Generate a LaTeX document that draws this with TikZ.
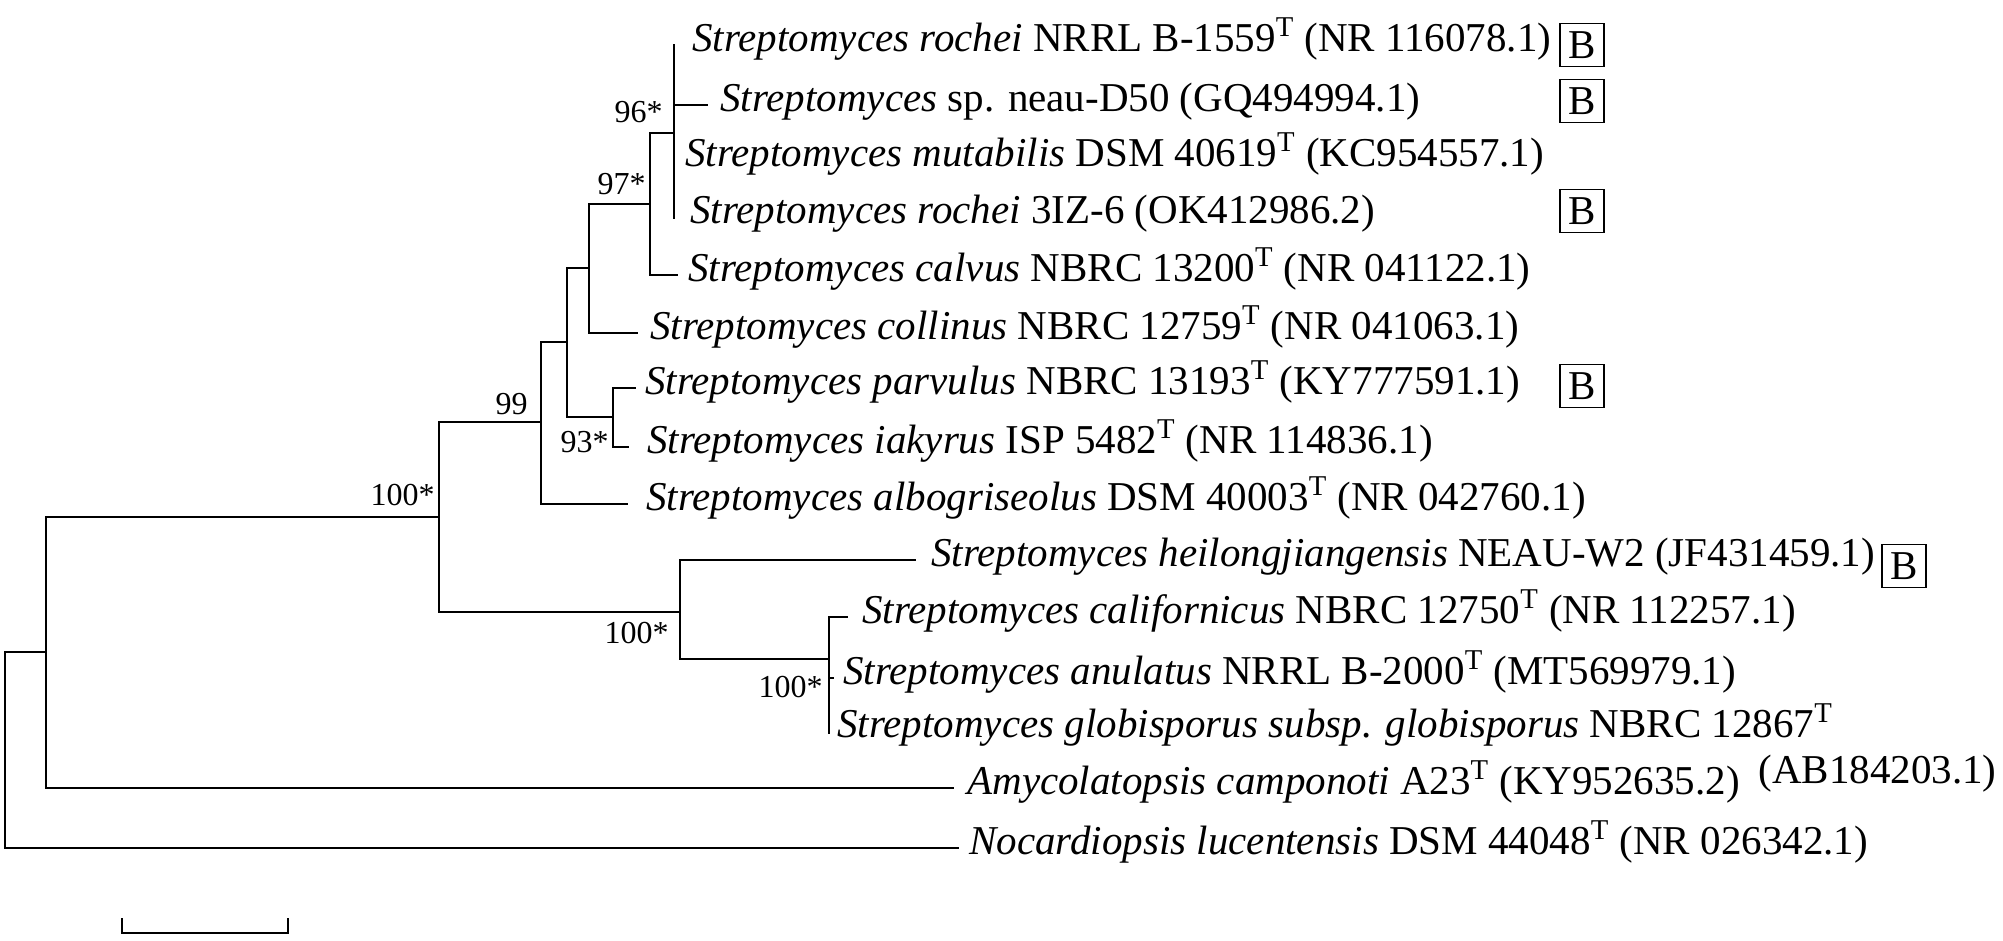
\documentclass[tikz,border=0pt]{standalone}
\usepackage{fontspec}
\setmainfont{Liberation Serif}
\newcommand{\typT}{\textsuperscript{T}}
\tikzset{
  branch/.style={line width=1pt, line cap=rect},
  leaf/.style={anchor=west, inner sep=0pt, text height=0.9em, text depth=0.25em, font=\fontsize{20.5}{24}\selectfont},
  boot/.style={anchor=base east, inner sep=0pt, font=\fontsize{16}{19}\selectfont},
  bmark/.style={draw, line width=0.8pt, minimum width=22pt, minimum height=21.5pt, inner sep=0pt, font=\fontsize{20.5}{24}\selectfont}
}
\begin{document}
\begin{tikzpicture}[x=0.5pt,y=-0.5pt]
\useasboundingbox (0,0) rectangle (2003,941);
%internal nodes
\coordinate (n96) at (674,133);
\coordinate (n97) at (650,204);
\coordinate (nX) at (589,268);
\coordinate (nY) at (567,342);
\coordinate (n93) at (613,417);
\coordinate (n99) at (541,422);
\coordinate (n100a) at (439,517);
\coordinate (n100b) at (680,612);
\coordinate (n100c) at (829,659);
\coordinate (nA) at (46,652);
\coordinate (root) at (5,750);
%branch tips
\coordinate (t1) at (674,45);
\coordinate (t2) at (707,105);
\coordinate (t3) at (674,160);
\coordinate (t4) at (674,218);
\coordinate (t5) at (677,275);
\coordinate (t6) at (637,333);
\coordinate (t7) at (635,388);
\coordinate (t8) at (628,447);
\coordinate (t9) at (627,504);
\coordinate (t10) at (915,560);
\coordinate (t11) at (847,617);
\coordinate (t12) at (833,678);
\coordinate (t13) at (829,733);
\coordinate (t14) at (953,788);
\coordinate (t15) at (958,848);
%branches
\draw[branch] (n96) |- (t1);
\draw[branch] (n96) |- (t2);
\draw[branch] (n96) |- (t3);
\draw[branch] (n96) |- (t4);
\draw[branch] (n97) |- (n96);
\draw[branch] (n97) |- (t5);
\draw[branch] (nX) |- (n97);
\draw[branch] (nX) |- (t6);
\draw[branch] (nY) |- (nX);
\draw[branch] (nY) |- (n93);
\draw[branch] (n93) |- (t7);
\draw[branch] (n93) |- (t8);
\draw[branch] (n99) |- (nY);
\draw[branch] (n99) |- (t9);
\draw[branch] (n100a) |- (n99);
\draw[branch] (n100a) |- (n100b);
\draw[branch] (n100b) |- (t10);
\draw[branch] (n100b) |- (n100c);
\draw[branch] (n100c) |- (t11);
\draw[branch] (n100c) |- (t12);
\draw[branch] (n100c) |- (t13);
\draw[branch] (nA) |- (n100a);
\draw[branch] (nA) |- (t14);
\draw[branch] (root) |- (nA);
\draw[branch] (root) |- (t15);
%bootstrap values
\node[boot] (b96) at (663,123) {96*};
\node[boot] (b97) at (646,195) {97*};
\node[boot] (b99) at (528,415) {99};
\node[boot] (b100a) at (435,505) {100*};
\node[boot] (b93) at (609,452) {93*};
\node[boot] (b100b) at (669,643) {100*};
\node[boot] (b100c) at (823,697) {100*};
%taxa
\node[leaf] (l1) at (692,45) {\textit{Streptomyces rochei} NRRL B-1559\typT{} (NR 116078.1)};
\node[leaf] (l2) at (720,105) {\textit{Streptomyces} sp. neau-D50 (GQ494994.1)};
\node[leaf] (l3) at (685,160) {\textit{Streptomyces mutabilis} DSM 40619\typT{} (KC954557.1)};
\node[leaf] (l4) at (690,217) {\textit{Streptomyces rochei} 3IZ-6 (OK412986.2)};
\node[leaf] (l5) at (688,275) {\textit{Streptomyces calvus} NBRC 13200\typT{} (NR 041122.1)};
\node[leaf] (l6) at (650,333) {\textit{Streptomyces collinus} NBRC 12759\typT{} (NR 041063.1)};
\node[leaf] (l7) at (645,388) {\textit{Streptomyces parvulus} NBRC 13193\typT{} (KY777591.1)};
\node[leaf] (l8) at (647,447) {\textit{Streptomyces iakyrus} ISP 5482\typT{} (NR 114836.1)};
\node[leaf] (l9) at (646,504) {\textit{Streptomyces albogriseolus} DSM 40003\typT{} (NR 042760.1)};
\node[leaf] (l10) at (931,560) {\textit{Streptomyces heilongjiangensis} NEAU-W2 (JF431459.1)};
\node[leaf] (l11) at (862,617) {\textit{Streptomyces californicus} NBRC 12750\typT{} (NR 112257.1)};
\node[leaf] (l12) at (843,678) {\textit{Streptomyces anulatus} NRRL B-2000\typT{} (MT569979.1)};
\node[leaf] (l13) at (837,731) {\textit{Streptomyces globisporus subsp. globisporus} NBRC 12867\typT};
\node[leaf] (l13b) at (1758,777) {(AB184203.1)};
\node[leaf] (l14) at (967,788) {\textit{Amycolatopsis camponoti} A23\typT{} (KY952635.2)};
\node[leaf] (l15) at (969,848) {\textit{Nocardiopsis lucentensis} DSM 44048\typT{} (NR 026342.1)};
%B marks
\node[bmark] (m1) at (1582,45) {B};
\node[bmark] (m2) at (1582,101) {B};
\node[bmark] (m4) at (1582,211) {B};
\node[bmark] (m7) at (1582,386) {B};
\node[bmark] (m10) at (1904,566) {B};
%scale bar
\coordinate (s0) at (122,933);
\coordinate (s1) at (288,933);
\draw[branch] ([yshift=7pt]s0) -- (s0) -- (s1) -- ([yshift=7pt]s1);
\end{tikzpicture}
\end{document}
